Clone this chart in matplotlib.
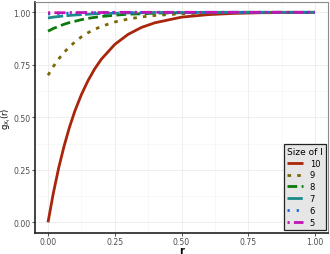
import matplotlib
matplotlib.use("Agg")
import matplotlib.pyplot as plt
from matplotlib.ticker import MultipleLocator

# r values
r = [0, 0.02, 0.04, 0.06, 0.08, 0.10, 0.125, 0.15, 0.175, 0.20,
     0.25, 0.30, 0.35, 0.40, 0.50, 0.60, 0.70, 0.80, 0.90, 1.00]

g10 = [0.0, 0.139, 0.259, 0.362, 0.451, 0.528, 0.608, 0.675, 0.731, 0.777,
       0.847, 0.895, 0.928, 0.950, 0.977, 0.989, 0.995, 0.998, 0.999, 1.0]
g9 = [0.700, 0.742, 0.778, 0.809, 0.835, 0.858, 0.883, 0.903, 0.919, 0.933,
      0.954, 0.968, 0.978, 0.985, 0.993, 0.997, 0.998, 0.999, 1.0, 1.0]
g8 = [0.910, 0.923, 0.933, 0.943, 0.951, 0.957, 0.965, 0.971, 0.976, 0.980,
      0.986, 0.991, 0.993, 0.996, 0.998, 0.999, 1.0, 1.0, 1.0, 1.0]
g7 = [0.973, 0.977, 0.980, 0.983, 0.985, 0.987, 0.989, 0.991, 0.993, 0.994,
      0.996, 0.997, 0.998, 0.999, 0.999, 1.0, 1.0, 1.0, 1.0, 1.0]
g6 = [0.992, 0.993, 0.994, 0.995, 0.996, 0.996, 0.997, 0.997, 0.998, 0.998,
      0.999, 0.999, 0.999, 1.0, 1.0, 1.0, 1.0, 1.0, 1.0, 1.0]
g5 = [0.998, 0.998, 0.998, 0.998, 0.999, 0.999, 0.999, 0.999, 0.999, 0.999,
      1.0, 1.0, 1.0, 1.0, 1.0, 1.0, 1.0, 1.0, 1.0, 1.0]

sizes = ["10", "9", "8", "7", "6", "5"]
series = [g10, g9, g8, g7, g6, g5]
colors = ["#A8260C", "#7D6608", "#0B7A0B", "#1A8A8A", "#2166DA", "#C213B4"]
dashes = [None, (1.3, 2.2), (3.5, 1.6), (5.5, 1.2), (0.8, 2.5), (0.8, 1.5, 4, 1.5)]

plt.rcParams["font.family"] = ["DejaVu Sans"]
plt.rcParams["mathtext.default"] = "regular"

fig = plt.figure(figsize=(3.3, 2.55), dpi=100)
ax = fig.add_axes([0.105, 0.083, 0.89, 0.906])

for lab, ys, c, d in zip(sizes, series, colors, dashes):
    ln, = ax.plot(r, ys, color=c, lw=2, label=lab, solid_capstyle="butt")
    if d is not None:
        ln.set_dashes(d)
        ln.set_dash_capstyle("butt")

ax.set_xlim(-0.05, 1.05)
ax.set_ylim(-0.05, 1.05)
ax.xaxis.set_major_locator(MultipleLocator(0.25))
ax.yaxis.set_major_locator(MultipleLocator(0.25))
ax.xaxis.set_minor_locator(MultipleLocator(0.125))
ax.yaxis.set_minor_locator(MultipleLocator(0.125))
ax.xaxis.set_major_formatter(plt.FormatStrFormatter("%.2f"))
ax.yaxis.set_major_formatter(plt.FormatStrFormatter("%.2f"))
ax.grid(which="major", color="#EBEBEB", lw=0.6)
ax.grid(which="minor", color="#F4F4F4", lw=0.4)
ax.set_axisbelow(True)
ax.tick_params(which="major", labelsize=5.6, length=2, width=0.6, color="#333333",
               labelcolor="#4D4D4D", pad=1.2)
ax.tick_params(which="minor", length=0)

for s in ["top", "right"]:
    ax.spines[s].set_color("#8C8C8C")
    ax.spines[s].set_linewidth(0.8)
for s in ["left", "bottom"]:
    ax.spines[s].set_color("#222222")
    ax.spines[s].set_linewidth(1.2)

ax.set_xlabel("r", fontsize=7, fontweight="bold")
ax.set_ylabel("$g_{X_I}(r)$", fontsize=6)
ax.xaxis.set_label_coords(0.5, -0.052)
ax.yaxis.set_label_coords(-0.073, 0.5)

leg = ax.legend(title="Size of I", loc="lower right", bbox_to_anchor=(0.992, 0.012),
                borderaxespad=0, fontsize=6, title_fontsize=6.5, handlelength=1.9,
                handletextpad=0.8, labelspacing=0.35, borderpad=0.35,
                fancybox=False, frameon=True)
leg.get_frame().set_facecolor("#E6E6E6")
leg.get_frame().set_edgecolor("#222222")
leg.get_frame().set_linewidth(0.9)
leg.get_frame().set_alpha(1)
leg._legend_box.align = "left"

fig.savefig("out.png", dpi=100)
